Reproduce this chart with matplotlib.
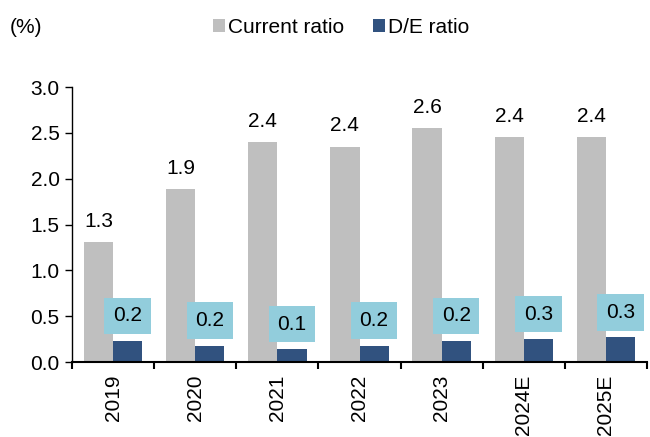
import numpy as np
import matplotlib
matplotlib.use('Agg')
import matplotlib.pyplot as plt

plt.rcParams['font.family'] = ['Liberation Sans', 'DejaVu Sans']

years = ['2019', '2020', '2021', '2022', '2023', '2024E', '2025E']
current_ratio = [1.31, 1.89, 2.40, 2.35, 2.55, 2.45, 2.45]
de_ratio = [0.23, 0.18, 0.14, 0.18, 0.23, 0.25, 0.27]
current_labels = ['1.3', '1.9', '2.4', '2.4', '2.6', '2.4', '2.4']
de_labels = ['0.2', '0.2', '0.1', '0.2', '0.2', '0.3', '0.3']

fs = 15
fig = plt.figure(figsize=(6.5, 4.37), dpi=100)
ax = fig.add_axes([0.1108, 0.1716, 0.8846, 0.6293])

x = np.arange(len(years))
w = 0.355
ax.bar(x - w / 2, current_ratio, w, color='#BFBFBF', label='Current ratio')
ax.bar(x + w / 2, de_ratio, w, color='#31527F', label='D/E ratio')

for i in range(len(years)):
    ax.annotate(current_labels[i], (x[i] - w / 2, current_ratio[i]), xytext=(0, 8),
                textcoords='offset points', ha='center', va='bottom', fontsize=fs)
    ax.annotate(de_labels[i], (x[i] + w / 2, de_ratio[i]), xytext=(0, 18),
                textcoords='offset points', ha='center', va='center', fontsize=fs,
                bbox=dict(boxstyle='square,pad=0.42', fc='#92CDDC', ec='none'))

ax.set_xlim(-0.5, len(years) - 0.5)
ax.set_ylim(0, 3.0)
ax.set_yticks(np.arange(0, 3.01, 0.5))
ax.set_yticklabels(['%.1f' % v for v in np.arange(0, 3.01, 0.5)], fontsize=fs)
ax.set_xticks(x)
ax.set_xticklabels(years, rotation=90, fontsize=fs)
ax.set_xticks(np.arange(-0.5, len(years)), minor=True)
ax.tick_params(axis='x', which='major', length=0, pad=9)
ax.tick_params(axis='x', which='minor', length=5, width=1.5, direction='out')
ax.tick_params(axis='y', length=5, width=1, direction='out', pad=4)
ax.spines['top'].set_visible(False)
ax.spines['right'].set_visible(False)
ax.spines['left'].set_linewidth(1)
ax.spines['bottom'].set_linewidth(1.5)

fig.text(0.015, 0.938, '(%)', fontsize=fs, va='center')
fig.legend(loc='center', bbox_to_anchor=(0.525, 0.938), ncol=2, frameon=False,
           fontsize=fs, handlelength=0.55, handleheight=0.55, handletextpad=0.15,
           columnspacing=1.4)

fig.savefig('out.png', dpi=100)
